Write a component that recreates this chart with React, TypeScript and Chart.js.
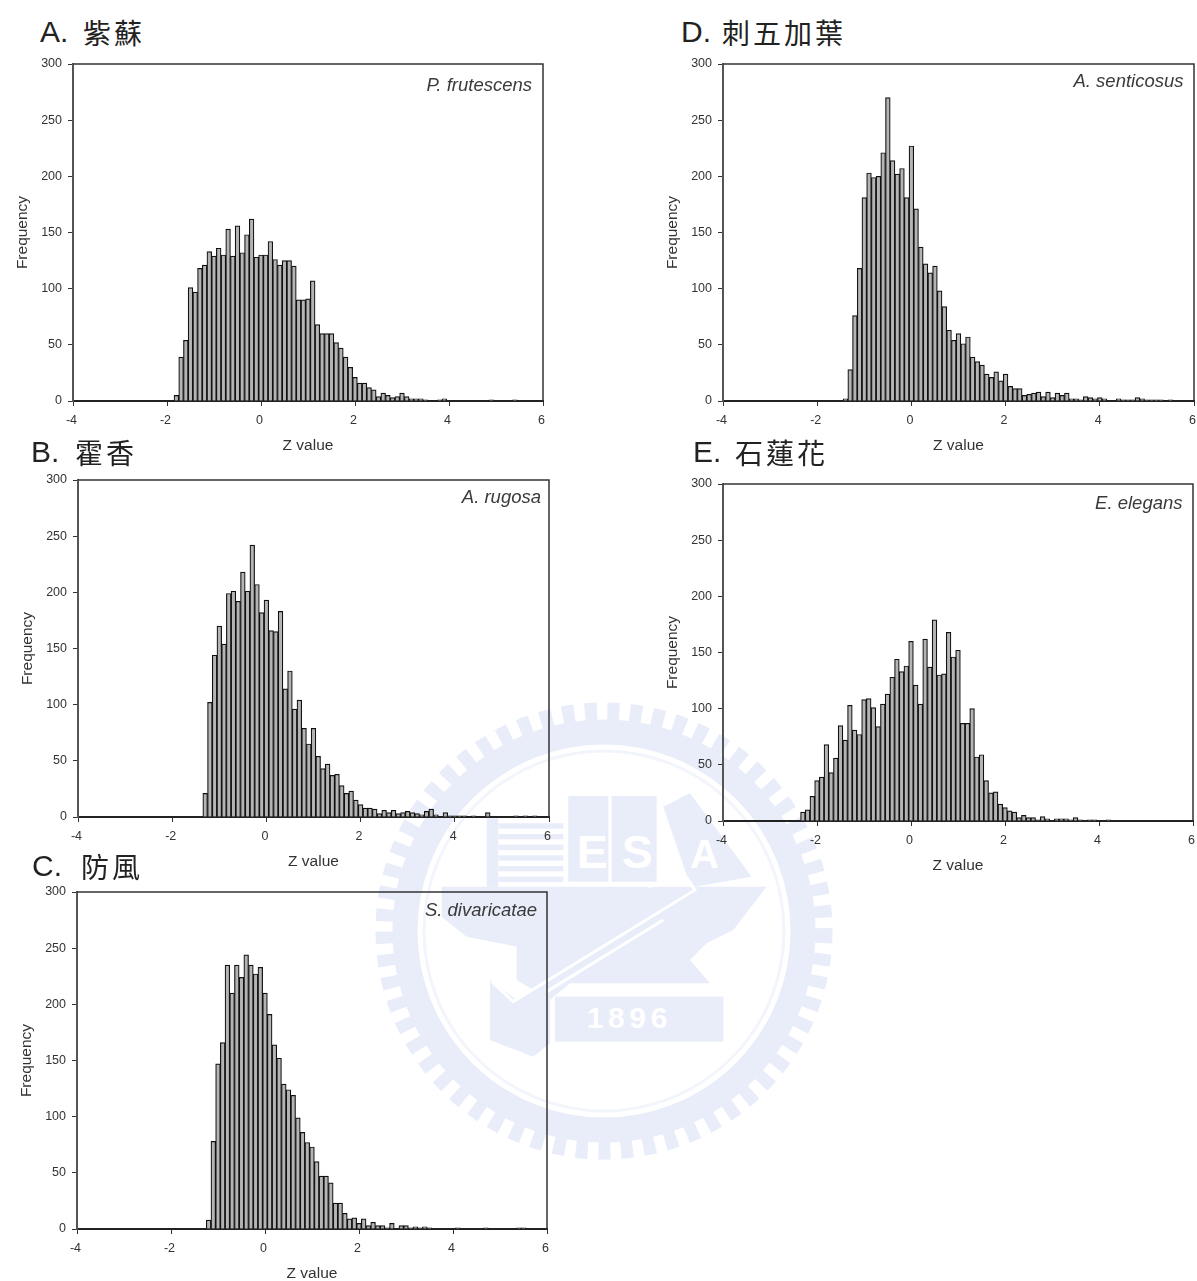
import React, { useEffect, useRef } from "react";
import { Chart, registerables } from "chart.js";

Chart.register(...registerables);

// Histogram frequencies; bins are 0.1 Z wide, first bin centred on the *Start value.
const aStart = -1.8;
const aValues = [5,39,54,101,97,118,121,133,129,136,130,153,129,156,132,148,162,128,130,130,142,126,121,125,125,120,90,90,91,107,68,60,60,60,52,47,39,30,21,16,16,12,10,4,7,5,3,4,7,4,2,2,2,1,0,0,1,2,0,0,0,0,0,0,0,0,0,1,0,0,0,0,1];
const bStart = -1.3;
const bValues = [21,102,144,170,154,199,201,192,218,201,242,207,182,193,166,165,183,114,130,96,104,79,65,79,54,43,47,37,38,28,21,23,15,11,8,8,7,3,6,4,6,3,4,5,4,3,2,5,7,2,0,4,1,1,1,1,0,1,0,0,4,0,0,0,0,0,1,0,1,0,1];
const cStart = -1.2;
const cValues = [8,78,147,166,235,210,235,224,244,235,227,233,210,191,164,152,129,124,119,99,86,77,73,60,47,47,41,23,23,14,9,10,5,9,3,6,3,3,1,5,0,3,3,1,2,1,2,1,0,0,0,0,0,1,0,0,0,0,0,1,0,0,0,0,0,0,1,1];
const dStart = -1.4;
const dValues = [2,28,76,118,181,203,199,200,221,270,214,202,207,181,227,171,137,122,114,120,98,84,63,54,60,51,57,39,35,32,24,21,26,18,24,13,11,11,5,6,7,8,4,8,3,7,5,7,2,2,1,4,3,2,3,2,0,0,2,1,1,1,3,2,1,1,1,1,0,1];
const eStart = -2.3;
const eValues = [8,10,22,36,39,68,43,56,85,72,103,81,77,108,109,101,84,104,113,128,144,133,138,160,121,104,162,137,179,130,131,168,146,152,87,87,100,57,59,36,25,26,15,12,9,8,3,5,3,3,1,4,2,0,2,2,2,1,3,1,0,1,1,0,0,1];

const yMin = 0, yMax = 300, yStep = 50;
const xMin = -4, xMax = 6, xStep = 2;
const xLabel = "Z value";
const yLabel = "Frequency";

const panels = [
  { name: "A", letter: "A.", cjk: "紫蘇", species: "P. frutescens", start: aStart, values: aValues,
    L: 73, T: 64, R: 542.5, B: 401, sx: 532, sy: 91, lx: 40, cx: 83, ty: 15 },
  { name: "B", letter: "B.", cjk: "霍香", species: "A. rugosa", start: bStart, values: bValues,
    L: 78, T: 480, R: 549, B: 817, sx: 541, sy: 503, lx: 31, cx: 75, ty: 435 },
  { name: "C", letter: "C.", cjk: "防風", species: "S. divaricatae", start: cStart, values: cValues,
    L: 77, T: 892, R: 547, B: 1229, sx: 537, sy: 916, lx: 32, cx: 81, ty: 849 },
  { name: "D", letter: "D.", cjk: "刺五加葉", species: "A. senticosus", start: dStart, values: dValues,
    L: 722.5, T: 64, R: 1193, B: 401, sx: 1183, sy: 87, lx: 681, cx: 722, ty: 15 },
  { name: "E", letter: "E.", cjk: "石蓮花", species: "E. elegans", start: eStart, values: eValues,
    L: 722.5, T: 484, R: 1192.5, B: 821, sx: 1182, sy: 509, lx: 693, cx: 735, ty: 435 },
];

const AXIS_W = 60, AXIS_H = 54, PAD_T = 8, PAD_R = 6;

function Histogram({ p }: { p: (typeof panels)[number] }) {
  const ref = useRef<HTMLCanvasElement>(null);
  useEffect(() => {
    const frame = {
      id: "frame",
      afterDraw(chart: any) {
        const { ctx, chartArea: a } = chart;
        ctx.save();
        ctx.strokeStyle = "#333";
        ctx.lineWidth = 1.5;
        ctx.beginPath();
        ctx.moveTo(a.left, a.top);
        ctx.lineTo(a.right, a.top);
        ctx.lineTo(a.right, a.bottom);
        ctx.stroke();
        ctx.fillStyle = "#3a3a3a";
        ctx.font = 'italic 18.5px "Liberation Sans"';
        ctx.textAlign = "right";
        ctx.textBaseline = "alphabetic";
        ctx.fillText(p.species, p.sx - (p.L - AXIS_W), p.sy - (p.T - PAD_T));
        ctx.restore();
      },
    };
    const tickFont = { family: '"Liberation Sans"', size: 12.5 };
    const chart = new Chart(ref.current!, {
      type: "bar",
      data: {
        datasets: [
          {
            label: p.species,
            data: p.values
              .map((v, i) => ({ x: Math.round((p.start + i * 0.1) * 10) / 10, y: v }))
              .filter((d) => d.y > 0),
            backgroundColor: "#b4b4b4",
            borderColor: "#111",
            borderWidth: 1.2,
            barThickness: 4.7,
            grouped: false,
          } as any,
        ],
      },
      plugins: [frame],
      options: {
        responsive: false,
        animation: false,
        layout: { padding: { top: PAD_T, right: PAD_R, left: 0, bottom: 0 } },
        plugins: { legend: { display: false }, tooltip: { enabled: false } },
        scales: {
          x: {
            type: "linear",
            min: xMin,
            max: xMax,
            offset: false,
            border: { color: "#222", width: 2 },
            grid: { offset: false, drawOnChartArea: false, color: "#333", tickLength: 5 },
            ticks: { stepSize: xStep, color: "#333", font: tickFont, padding: 7, maxRotation: 0, labelOffset: -1.5 },
            title: { display: true, text: xLabel, color: "#333", font: { family: '"Liberation Sans"', size: 15.5 }, padding: 0 },
            afterFit: (s: any) => { s.height = AXIS_H; s.paddingLeft = 0; s.paddingRight = 0; },
          },
          y: {
            min: yMin,
            max: yMax,
            border: { color: "#555", width: 2 },
            grid: { drawOnChartArea: false, color: "#333", tickLength: 5 },
            ticks: { stepSize: yStep, color: "#333", font: tickFont, padding: 6 },
            title: { display: true, text: yLabel, color: "#333", font: { family: '"Liberation Sans"', size: 15.5 }, padding: 0 },
            afterFit: (s: any) => { s.width = AXIS_W; s.paddingTop = 0; s.paddingBottom = 0; },
          },
        },
      } as any,
    });
    return () => chart.destroy();
  }, [p]);
  return (
    <canvas
      ref={ref}
      width={Math.round(p.R - p.L + AXIS_W + PAD_R)}
      height={Math.round(p.B - p.T + PAD_T + AXIS_H)}
      style={{
        position: "absolute",
        left: p.L - AXIS_W,
        top: p.T - PAD_T,
        filter: "blur(0.4px)",
      }}
    />
  );
}

function Seal() {
  const c = "#e9ecf9";
  return (
    <svg width={1197} height={1281} style={{ position: "absolute", left: 0, top: 0 }}>
      <circle cx={604} cy={931} r={219} fill="none" stroke={c} strokeWidth={19} strokeDasharray="12 10.5" />
      <circle cx={604} cy={931} r={199} fill="none" stroke={c} strokeWidth={25} />
      <circle cx={604} cy={931} r={180} fill="none" stroke="#f3f5fc" strokeWidth={3} />
      <g transform="translate(370 690) scale(0.3333)" fill={c}>
        <rect x={350} y={385} width={35} height={205} />
        {[400, 432, 464, 496, 528, 560].map((y) => (
          <rect key={y} x={385} y={y} width={195} height={16} />
        ))}
        <rect x={595} y={318} width={120} height={257} />
        <rect x={725} y={318} width={135} height={257} />
        <polygon points="880,350 960,310 1145,560 975,590 950,555" />
        <polygon points="215,590 1190,590 1090,720 1010,760 960,810 1020,880 600,880 540,930 440,870 440,770 290,740 215,680" />
        <polygon points="360,870 440,930 540,860 540,1060 490,1100 360,1050" />
        <rect x={555} y={920} width={505} height={135} />
        <polyline points="835,590 950,570 975,600 430,935 365,875" fill="none" stroke="#fff" strokeWidth={9} />
        <line x1={880} y1={690} x2={530} y2={905} stroke="#fff" strokeWidth={9} />
        <g fill="#fff" fontFamily='"Liberation Sans"' fontWeight={700}>
          <text x={620} y={535} fontSize={140}>E</text>
          <text x={755} y={535} fontSize={140}>S</text>
          <text x={960} y={535} fontSize={120}>A</text>
          <text x={650} y={1015} fontSize={90} letterSpacing={14}>1896</text>
        </g>
      </g>
    </svg>
  );
}

export default function App() {
  return (
    <div style={{ position: "absolute", left: 0, top: 0, width: 1197, height: 1281, overflow: "hidden", background: "#fff" }}>
      <Seal />
      {panels.map((p) => (
        <Histogram key={p.name} p={p} />
      ))}
      {panels.map((p) => (
        <React.Fragment key={p.name}>
          <div style={{ position: "absolute", left: p.lx, top: p.ty, font: '30px/34px "Liberation Sans"', color: "#222", whiteSpace: "nowrap" }}>{p.letter}</div>
          <div style={{ position: "absolute", left: p.cx, top: p.ty, font: '28px/34px "Noto Sans CJK TC"', letterSpacing: 3, color: "#222", whiteSpace: "nowrap" }}>{p.cjk}</div>
        </React.Fragment>
      ))}
    </div>
  );
}
